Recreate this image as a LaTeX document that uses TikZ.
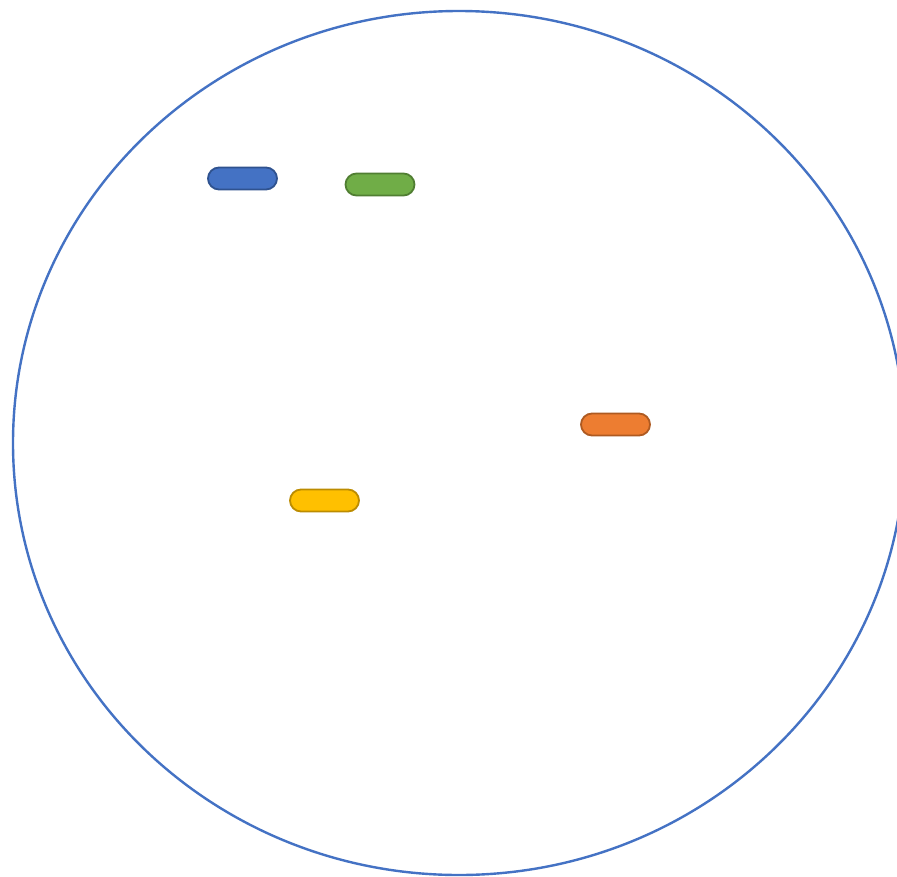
\documentclass[tikz,border=0pt]{standalone}
\usetikzlibrary{shapes.misc,shapes.geometric}
\definecolor{ringblue}{HTML}{4472C4}
\definecolor{bluefill}{HTML}{4472C4}\definecolor{bluedraw}{HTML}{2F528F}
\definecolor{greenfill}{HTML}{70AD47}\definecolor{greendraw}{HTML}{507E32}
\definecolor{orangefill}{HTML}{ED7D31}\definecolor{orangedraw}{HTML}{AE5A21}
\definecolor{yellowfill}{HTML}{FFC000}\definecolor{yellowdraw}{HTML}{BC8C00}
\tikzset{
  pill/.style={rounded rectangle, minimum width=69pt, minimum height=22pt, inner sep=0pt, line width=1.8pt},
}
\begin{document}
\begin{tikzpicture}[x=1pt,y=-1pt]
\useasboundingbox (0,0) rectangle (897,876);
\clip (0,0) rectangle (897,876);
\fill[white] (0,0) rectangle (897,876);
\node[draw=ringblue, line width=2.4pt, ellipse, minimum width=892pt, minimum height=864pt, inner sep=0pt] (ring) at (459,443) {};
\node[pill, fill=bluefill, draw=bluedraw] (blue) at (242.5,178.5) {};
\node[pill, fill=greenfill, draw=greendraw] (green) at (380,184.5) {};
\node[pill, fill=orangefill, draw=orangedraw] (orange) at (615.5,424.5) {};
\node[pill, fill=yellowfill, draw=yellowdraw] (yellow) at (324.5,500.5) {};
\end{tikzpicture}
\end{document}
